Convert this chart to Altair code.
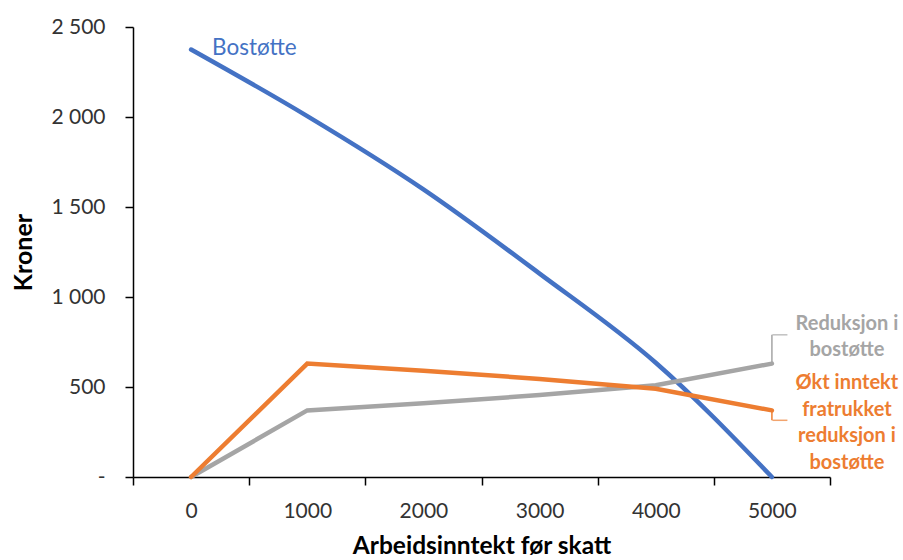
import altair as alt
import pandas as pd

# ---- data ----
inntekt = ["0", "1000", "2000", "3000", "4000", "5000"]
bostotte = [2375, 2005, 1598, 1130, 635, 0]
reduksjon = [0, 370, 410, 455, 510, 630]
okt_inntekt = [0, 630, 590, 545, 490, 370]

serier = ["Bostøtte", "Reduksjon i bostøtte", "Økt inntekt fratrukket reduksjon i bostøtte"]
farger = ["#4472C4", "#A5A5A5", "#ED7D31"]

# annotation labels (attached to a category / value of each series)
ann_serie = serier
ann_x = ["0", "5000", "5000"]
ann_y = [bostotte[0], reduksjon[-1], okt_inntekt[-1]]
ann_tekst = ["Bostøtte", "Reduksjon i\nbostøtte", "Økt inntekt\nfratrukket\nreduksjon i\nbostøtte"]

# leader lines of the callouts (value at the line end, value at the label side)
leder_serie = [serier[1], serier[2]]
leder_y = [reduksjon[-1], okt_inntekt[-1]]
leder_y2 = [790, 315]

rows = []
for s, vals in zip(serier, [bostotte, reduksjon, okt_inntekt]):
    for i, (x, v) in enumerate(zip(inntekt, vals)):
        rows.append({"serie": s, "inntekt": x, "verdi": v, "rekkefolge": i})
df = pd.DataFrame(rows)

ann = pd.DataFrame({"serie": ann_serie, "inntekt": ann_x, "verdi": ann_y, "tekst": ann_tekst})
leder = pd.DataFrame({"serie": leder_serie, "inntekt": ["5000", "5000"], "verdi": leder_y, "verdi2": leder_y2})

FONT = "Lato"
LABEL_COLOR = "#333333"

xscale = alt.Scale(type="band", domain=inntekt, paddingInner=0, paddingOuter=0)
yscale = alt.Scale(domain=[0, 2500], nice=False)
cscale = alt.Scale(domain=serier, range=farger)

x_enc = alt.X(
    "inntekt:O",
    sort=inntekt,
    scale=xscale,
    bandPosition=0.5,
    axis=alt.Axis(
        title="Arbeidsinntekt før skatt",
        labelAngle=0,
        tickBand="extent",
        tickSize=8,
        labelPadding=15,
        labelFontSize=21,
        titleFontSize=24.5,
        titleY=76,
        titleBaseline="alphabetic",
    ),
)
y_enc = alt.Y(
    "verdi:Q",
    scale=yscale,
    axis=alt.Axis(
        title="Kroner",
        values=[0, 500, 1000, 1500, 2000, 2500],
        grid=False,
        tickSize=8,
        labelPadding=20,
        labelFontSize=21,
        labelExpr="datum.value == 0 ? '-\u00a0\u00a0\u00a0' : replace(format(datum.value, ','), ',', '\u00a0')",
        titleFontSize=25,
        titleAngle=270,
        titleX=-102,
        titleBaseline="alphabetic",
    ),
)
c_enc = alt.Color("serie:N", scale=cscale, legend=None)

base = alt.Chart(df)

blue = base.transform_filter(alt.datum.serie == serier[0]).mark_line(
    strokeWidth=4.5, interpolate="monotone", strokeCap="round"
).encode(x=x_enc, y=y_enc, color=c_enc, order="rekkefolge:Q")

grey = base.transform_filter(alt.datum.serie == serier[1]).mark_line(
    strokeWidth=4.5, strokeCap="round"
).encode(x=x_enc, y=y_enc, color=c_enc, order="rekkefolge:Q")

orange = base.transform_filter(alt.datum.serie == serier[2]).mark_line(
    strokeWidth=4.5, strokeCap="round"
).encode(x=x_enc, y=y_enc, color=c_enc, order="rekkefolge:Q")

lbase = alt.Chart(leder)
leder_v = lbase.mark_rule(strokeWidth=1.5).encode(
    x=alt.X("inntekt:O", scale=xscale, bandPosition=0.5),
    y=alt.Y("verdi:Q", scale=yscale),
    y2="verdi2:Q",
    color=c_enc,
)
leder_h = lbase.mark_tick(orient="horizontal", size=15, thickness=1.5, xOffset=8).encode(
    x=alt.X("inntekt:O", scale=xscale, bandPosition=0.5),
    y=alt.Y("verdi2:Q", scale=yscale),
    color=c_enc,
)

abase = alt.Chart(ann)
t_blue = abase.transform_filter(alt.datum.serie == serier[0]).mark_text(
    align="left", baseline="middle", dx=21, dy=-2, fontSize=22.5, font=FONT
).encode(x=alt.X("inntekt:O", scale=xscale, bandPosition=0.5), y=alt.Y("verdi:Q", scale=yscale), text="tekst:N", color=c_enc)

t_grey = abase.transform_filter(alt.datum.serie == serier[1]).mark_text(
    align="center", baseline="middle", dx=75, dy=-40, fontSize=20, fontWeight="bold",
    lineBreak="\n", lineHeight=26, font=FONT
).encode(x=alt.X("inntekt:O", scale=xscale, bandPosition=0.5), y=alt.Y("verdi:Q", scale=yscale), text="tekst:N", color=c_enc)

t_orange = abase.transform_filter(alt.datum.serie == serier[2]).mark_text(
    align="center", baseline="middle", dx=75, dy=-27, fontSize=20, fontWeight="bold",
    lineBreak="\n", lineHeight=26.5, font=FONT
).encode(x=alt.X("inntekt:O", scale=xscale, bandPosition=0.5), y=alt.Y("verdi:Q", scale=yscale), text="tekst:N", color=c_enc)

chart = alt.layer(blue, grey, orange, leder_v, leder_h, t_blue, t_grey, t_orange).properties(
    width=697,
    height=450,
    autosize=alt.AutoSizeParams(type="none"),
    padding={"left": 133, "top": 27, "right": 73, "bottom": 83},
    background="white",
).configure_view(stroke=None).configure_axis(
    labelFont=FONT,
    titleFont=FONT,
    labelColor=LABEL_COLOR,
    titleColor="#000000",
    titleFontWeight="bold",
    domainColor="#000000",
    domainWidth=1.5,
    tickColor="#000000",
    tickWidth=1.5,
).configure_text(font=FONT)

chart.save("out.html", embed_options={"renderer": "svg", "actions": False})
